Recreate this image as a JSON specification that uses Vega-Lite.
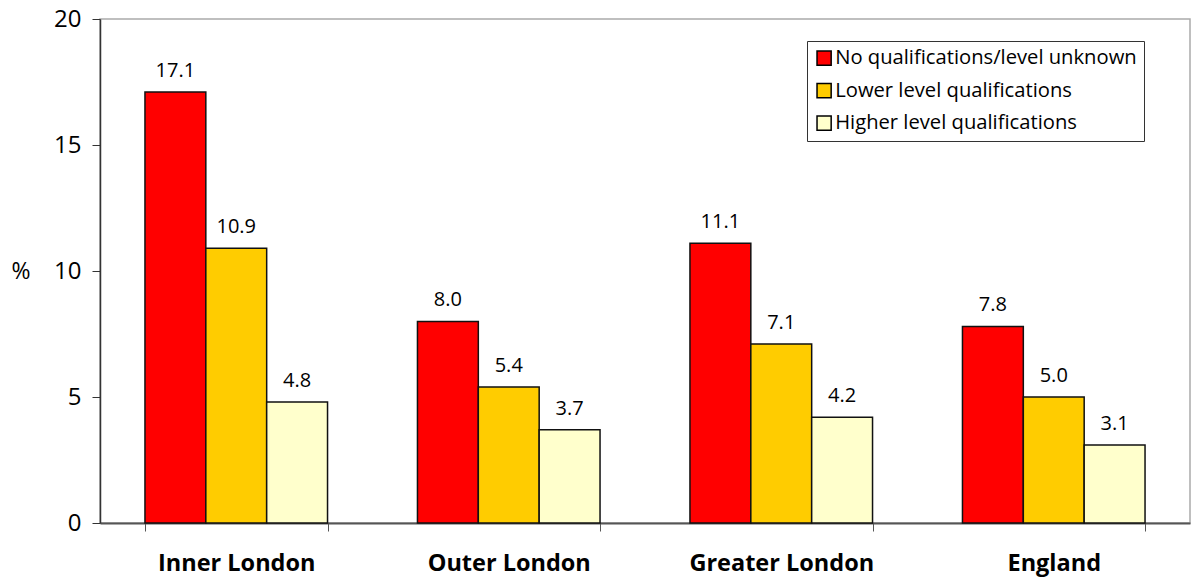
{
  "$schema": "https://vega.github.io/schema/vega-lite/v6.json",
  "autosize": "none",
  "width": 1090,
  "height": 504,
  "padding": {"left": 100, "top": 19, "right": 1, "bottom": 56},
  "background": "white",
  "config": {
    "font": "Open Sans",
    "view": {"stroke": "#aaaaaa", "strokeWidth": 1.5}
  },
  "data": {
    "values": [
      {"area": "Inner London", "category": "No qualifications/level unknown", "value": 17.1},
      {"area": "Inner London", "category": "Lower level qualifications", "value": 10.9},
      {"area": "Inner London", "category": "Higher level qualifications", "value": 4.8},
      {"area": "Outer London", "category": "No qualifications/level unknown", "value": 8.0},
      {"area": "Outer London", "category": "Lower level qualifications", "value": 5.4},
      {"area": "Outer London", "category": "Higher level qualifications", "value": 3.7},
      {"area": "Greater London", "category": "No qualifications/level unknown", "value": 11.1},
      {"area": "Greater London", "category": "Lower level qualifications", "value": 7.1},
      {"area": "Greater London", "category": "Higher level qualifications", "value": 4.2},
      {"area": "England", "category": "No qualifications/level unknown", "value": 7.8},
      {"area": "England", "category": "Lower level qualifications", "value": 5.0},
      {"area": "England", "category": "Higher level qualifications", "value": 3.1}
    ]
  },
  "encoding": {
    "x": {
      "field": "area",
      "type": "nominal",
      "sort": ["Inner London", "Outer London", "Greater London", "England"],
      "scale": {"paddingInner": 0.33, "paddingOuter": 0.165},
      "axis": {
        "title": null,
        "labelAngle": 0,
        "labelFontSize": 23.5,
        "labelFontWeight": "bold",
        "labelColor": "black",
        "labelPadding": 20,
        "labelLimit": 400,
        "tickBand": "extent",
        "tickSize": 8,
        "tickColor": "#555555",
        "domainColor": "#555555",
        "domainWidth": 2
      }
    },
    "xOffset": {
      "field": "category",
      "type": "nominal",
      "sort": ["No qualifications/level unknown", "Lower level qualifications", "Higher level qualifications"],
      "scale": {"paddingInner": 0, "paddingOuter": 0}
    },
    "y": {
      "field": "value",
      "type": "quantitative",
      "scale": {"domain": [0, 20]},
      "axis": {
        "title": "%",
        "titleAngle": 0,
        "titleFontSize": 23,
        "titleFontWeight": "normal",
        "titleColor": "black",
        "titleX": -89,
        "titleY": 252,
        "titleAlign": "left",
        "titleBaseline": "middle",
        "values": [0, 5, 10, 15, 20],
        "grid": false,
        "labelFontSize": 24,
        "labelColor": "black",
        "labelPadding": 11,
        "tickSize": 8,
        "tickColor": "#333333",
        "domainColor": "#333333",
        "domainWidth": 1.5
      }
    }
  },
  "layer": [
    {
      "mark": {"type": "bar", "stroke": "#111111", "strokeWidth": 1.5},
      "encoding": {
        "color": {
          "field": "category",
          "type": "nominal",
          "scale": {
            "domain": ["No qualifications/level unknown", "Lower level qualifications", "Higher level qualifications"],
            "range": ["#ff0000", "#ffcc00", "#ffffcc"]
          },
          "legend": {
            "title": null,
            "orient": "none",
            "legendX": 707,
            "legendY": 22,
            "padding": 7,
            "strokeColor": "#333333",
            "fillColor": "white",
            "symbolType": "square",
            "symbolSize": 200,
            "symbolStrokeColor": "black",
            "symbolStrokeWidth": 1.5,
            "symbolOpacity": 1,
            "labelFontSize": 20.2,
            "labelColor": "black",
            "labelOffset": 1,
            "rowPadding": 11.5,
            "labelLimit": 400
          }
        }
      }
    },
    {
      "mark": {"type": "text", "baseline": "bottom", "dy": -11, "fontSize": 20, "color": "black"},
      "encoding": {
        "text": {"field": "value", "type": "quantitative", "format": ".1f"}
      }
    }
  ]
}
